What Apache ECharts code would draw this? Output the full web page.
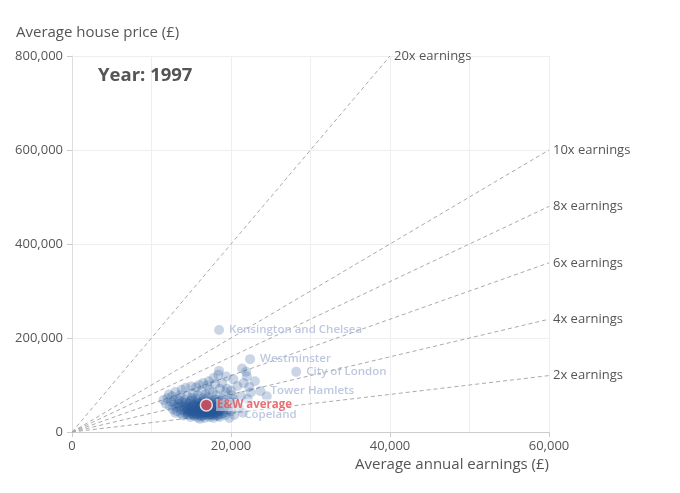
<!DOCTYPE html>
<html lang="en">
<head>
    <meta charset="UTF-8">
    <title>House prices vs earnings</title>
    <script type="text/javascript" src="https://cdn.jsdelivr.net/npm/echarts@6/dist/echarts.min.js"></script>
    <style>
        body{
            padding: 0px;
            margin: 0px;
            background-color: #ffffff;
        }
        #chart{
            width: 680px;
            height: 493px;
        }
    </style>
</head>
<body>
    <div id="chart"></div>
    <script>
        // local authorities, [earnings, house price]
        var districts = [
            [13500,52000],[13800,46000],[14000,58000],[14200,41000],[14300,63000],[14500,49000],
            [14600,37000],[14800,55000],[14900,44000],[15000,67000],[15100,40000],[15200,51000],
            [15300,59000],[15400,34000],[15500,46000],[15600,71000],[15700,55000],[15800,42000],
            [15900,62000],[16000,38000],[16100,49000],[16200,57000],[16300,33000],[16400,45000],
            [16500,66000],[16600,52000],[16700,41000],[16800,60000],[16900,36000],[17000,48000],
            [17100,74000],[17200,55000],[17300,43000],[17400,64000],[17500,38000],[17600,51000],
            [17700,58000],[17800,46000],[17900,69000],[18000,40000],[18100,53000],[18200,62000],
            [18300,47000],[18400,35000],[18500,57000],[18600,44000],[18700,66000],[18800,50000],
            [19000,40000],[19200,55000],[13200,44000],[13400,60000],[13700,39000],[14100,53000],
            [14400,45000],[14700,60000],[15000,36000],[15300,48000],[15600,39000],[15900,53000],
            [16200,44000],[16500,35000],[16800,47000],[17100,39000],[17400,50000],[17700,35000],
            [18000,45000],[18300,39000],[16000,56000],[16400,61000],[15400,58000],[14900,52000],
            [16900,54000],[17600,43000],[15200,43000],[14600,47000],[16700,30000],[15800,31000],
            [17300,32000],[14900,32000],[16100,28000],[17800,30000],[18600,32000],[19300,36000],
            [19600,48000],[11500,68000],[11800,60000],[12000,72000],[12300,55000],[12500,64000],
            [12700,48000],[12900,58000],[13000,41000],[12600,76000],[13300,70000],[13600,78000],
            [14500,76000],[15200,82000],[15800,78000],[16300,86000],[16800,80000],[17300,90000],
            [17700,84000],[18200,78000],[18600,92000],[19000,72000],[19300,85000],[19700,66000],
            [20100,78000],[15600,95000],[17000,99000],[18000,102000],[18500,130000],[19400,118000],
            [20300,112000],[21400,135000],[21900,128000],[22000,118000],[21600,104000],[22300,96000],
            [20800,98000],[22500,84000],[21300,76000],[22100,70000],[20500,62000],[21000,52000],
            [20000,44000],[21500,41000],[23000,108000],[24500,76000],[19800,30000],[16400,40000],
            [15700,49000],[17500,61000],[18900,59000],[14000,35000],[13500,67000],[16600,72000],
            [12200,80000],[13000,85000],[13800,90000],[14300,94000],[15000,97000],[16000,100000],
            [16500,104000],[17200,108000],[17800,115000],[18400,122000],[12800,66000],[13100,52000],
            [13600,57000],[13900,63000],[14200,69000],[14400,55000],[14700,42000],[14800,65000],
            [15100,55000],[15100,73000],[15400,63000],[15500,41000],[15600,51000],[15800,67000],
            [15900,46000],[16000,60000],[16100,35000],[16200,52000],[16300,64000],[16400,48000],
            [16500,57000],[16600,38000],[16700,62000],[16800,43000],[16900,69000],[17000,52000],
            [17100,45000],[17200,60000],[17300,36000],[17400,55000],[17500,47000],[17600,66000],
            [17700,41000],[17800,54000],[17900,37000],[18000,59000],[18100,48000],[18200,42000],
            [18300,68000],[18400,52000],[18500,45000],[18700,38000],[18800,61000],[19000,47000],
            [19100,64000],[19400,42000],[14200,47000],[14500,39000],[15000,45000],[15300,38000],
            [15700,36000],[16300,41000],[16600,46000],[17000,42000],[17200,37000],[17600,40000],
            [18200,34000],[19800,58000],[20300,70000],[19500,92000],[18900,104000],[20000,88000]
        ];

        var namedAreas = ['Kensington and Chelsea', 'Westminster', 'City of London', 'Tower Hamlets', 'Copeland'];
        var namedEarnings = [18500, 22400, 28200, 23700, 20400];
        var namedPrices = [217000, 155000, 128000, 87000, 36000];

        var averageEarnings = 16900;
        var averagePrice = 57500;

        var multiples = [20, 10, 8, 6, 4, 2];
        var xTicks = [0, 20000, 40000, 60000];
        var yTicks = [0, 200000, 400000, 600000, 800000];

        var xMax = xTicks[xTicks.length - 1];
        var yMax = yTicks[yTicks.length - 1];
        var font = '"Open Sans", sans-serif';
        var dotColor = 'rgba(37,86,154,0.3)';

        var chart = echarts.init(document.getElementById('chart'));

        var series = [];
        multiples.forEach(function (m) {
            var endX = Math.min(xMax, yMax / m);
            series.push({
                type: 'line',
                data: [[0, 0], [endX, endX * m]],
                symbol: 'none',
                silent: true,
                z: 1,
                lineStyle: {color: '#aaaaaa', width: 1, type: [4, 3]},
                endLabel: {
                    show: true,
                    formatter: m + 'x earnings',
                    color: '#555555',
                    fontFamily: font,
                    fontSize: 13,
                    distance: 4
                }
            });
        });

        series.push({
            type: 'scatter',
            data: districts,
            symbolSize: 10,
            z: 3,
            itemStyle: {color: dotColor}
        });

        series.push({
            type: 'scatter',
            data: namedAreas.map(function (n, i) {
                return {name: n, value: [namedEarnings[i], namedPrices[i]]};
            }),
            symbolSize: 10,
            z: 3,
            itemStyle: {color: dotColor},
            label: {
                show: true,
                position: 'right',
                distance: 5,
                formatter: '{b}',
                color: '#adbad7',
                fontFamily: font,
                fontSize: 11.5,
                fontWeight: 600
            }
        });

        series.push({
            type: 'scatter',
            data: [{name: 'E&W average', value: [averageEarnings, averagePrice]}],
            symbolSize: 12,
            z: 5,
            itemStyle: {color: '#e54e50', borderColor: '#ffffff', borderWidth: 1.5},
            label: {
                show: true,
                position: 'right',
                distance: 3,
                formatter: '{b}',
                color: '#e54e50',
                fontFamily: font,
                fontSize: 11.5,
                fontWeight: 700,
                backgroundColor: 'rgba(255,255,255,0.6)',
                padding: [0, 1]
            }
        });

        chart.setOption({
            animation: false,
            textStyle: {fontFamily: font},
            title: {
                text: 'Year: 1997',
                left: 98,
                top: 66,
                padding: 0,
                textStyle: {color: '#555555', fontSize: 18.5, fontWeight: 700, fontFamily: font}
            },
            grid: {left: 72, right: 131, top: 56, bottom: 61, containLabel: false, outerBoundsMode: 'none'},
            xAxis: {
                type: 'value',
                min: xTicks[0],
                max: xMax,
                interval: xTicks[1] - xTicks[0],
                name: 'Average annual earnings (£)',
                nameLocation: 'end',
                nameGap: 0,
                nameTextStyle: {
                    color: '#555555', fontSize: 15, fontFamily: font,
                    align: 'right', verticalAlign: 'top', padding: [25, 0, 0, 0]
                },
                axisLine: {lineStyle: {color: '#cccccc'}},
                axisTick: {show: true, length: 5, lineStyle: {color: '#cccccc'}},
                axisLabel: {
                    color: '#555555', fontSize: 13, margin: 8,
                    formatter: function (v) { return echarts.format.addCommas(v); }
                },
                splitLine: {show: true, lineStyle: {color: '#eeeeee'}},
                minorTick: {show: false, splitNumber: 2},
                minorSplitLine: {show: true, lineStyle: {color: '#eeeeee'}}
            },
            yAxis: {
                type: 'value',
                min: yTicks[0],
                max: yMax,
                interval: yTicks[1] - yTicks[0],
                name: 'Average house price (£)',
                nameLocation: 'end',
                nameGap: 16,
                nameTextStyle: {
                    color: '#555555', fontSize: 15, fontFamily: font,
                    align: 'left', padding: [0, 0, 0, -56]
                },
                axisLine: {show: true, lineStyle: {color: '#dddddd'}},
                axisTick: {show: true, length: 5, lineStyle: {color: '#cccccc'}},
                axisLabel: {
                    color: '#555555', fontSize: 13, margin: 9,
                    formatter: function (v) { return echarts.format.addCommas(v); }
                },
                splitLine: {show: true, lineStyle: {color: '#eeeeee'}}
            },
            series: series
        });
    </script>
</body>
</html>
